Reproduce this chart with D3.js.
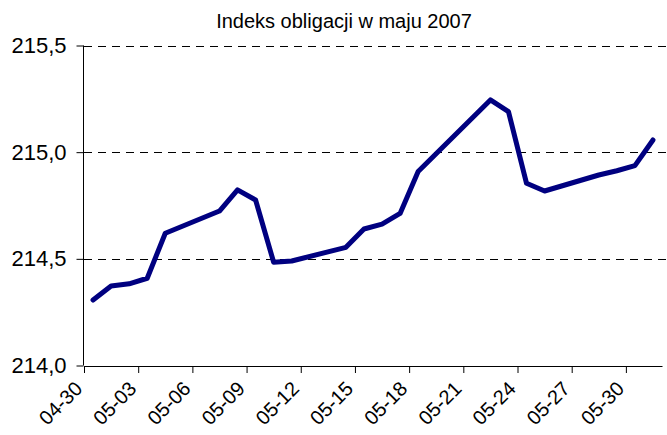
<!DOCTYPE html>
<html lang="pl">
<head>
<meta charset="utf-8">
<title>Indeks obligacji w maju 2007</title>
<script src="https://cdnjs.cloudflare.com/ajax/libs/d3/7.8.5/d3.min.js"></script>
<style>
  body { margin: 0; background: #fff; }
  svg { display: block; font-family: "Liberation Sans", Arial, sans-serif; }
</style>
</head>
<body>
<div id="chart"></div>
<script>
// trading days (2007) and index values
var days = ["04-30", "05-01", "05-02", "05-03", "05-04", "05-07", "05-08", "05-09",
  "05-10", "05-11", "05-14", "05-15", "05-16", "05-17", "05-18", "05-22", "05-23",
  "05-24", "05-25", "05-28", "05-29", "05-30", "05-31"];
var values = [214.307, 214.373, 214.383, 214.409, 214.62, 214.724, 214.823, 214.776,
  214.484, 214.49, 214.554, 214.64, 214.663, 214.713, 214.909, 215.245, 215.19,
  214.854, 214.818, 214.893, 214.913, 214.937, 215.057];
var xTicks = ["04-30", "05-03", "05-06", "05-09", "05-12", "05-15", "05-18", "05-21",
  "05-24", "05-27", "05-30"];
var yTicks = [214.0, 214.5, 215.0, 215.5];

var width = 667, height = 435;
var plotLeft = 84, plotRight = 662, plotTop = 45.5, plotBottom = 365.5;

var parse = d3.utcParse("%Y-%m-%d");
function toDate(s) { return parse("2007-" + s); }

var data = days.map(function(d, i) {
  return { date: d3.utcHour.offset(toDate(d), 12), value: values[i] };
});

var x = d3.scaleUtc()
  .domain([toDate("04-30"), toDate("06-01")])
  .range([plotLeft, plotRight]);

var y = d3.scaleLinear()
  .domain([214, 215.5])
  .range([plotBottom, plotTop]);

var svg = d3.select("#chart").append("svg")
  .attr("width", width)
  .attr("height", height);

// title
svg.append("text")
  .attr("x", 344)
  .attr("y", 28)
  .attr("text-anchor", "middle")
  .style("font-size", "20px")
  .text("Indeks obligacji w maju 2007");

// dashed gridlines
svg.append("g")
  .selectAll("line")
  .data(yTicks.filter(function(d) { return d > 214; }))
  .enter().append("line")
  .attr("x1", plotLeft)
  .attr("x2", width)
  .attr("y1", function(d) { return Math.round(y(d)) + 0.5; })
  .attr("y2", function(d) { return Math.round(y(d)) + 0.5; })
  .attr("stroke", "#000")
  .attr("stroke-width", 1)
  .attr("stroke-dasharray", "8,6");

// y axis
var yAxis = svg.append("g")
  .attr("transform", "translate(" + (plotLeft - 0.5) + ",0)")
  .call(d3.axisLeft(y)
    .tickValues(yTicks)
    .tickSize(7)
    .tickPadding(10)
    .tickFormat(function(d) { return d3.format(".1f")(d).replace(".", ","); }));
yAxis.select(".domain").remove();
yAxis.append("line")
  .attr("x1", 0).attr("x2", 0)
  .attr("y1", plotTop).attr("y2", plotBottom)
  .attr("stroke", "#000");
yAxis.selectAll("text")
  .style("font-size", "22px")
  .style("font-family", "'Liberation Sans', Arial, sans-serif")
  .attr("fill", "#000");
yAxis.selectAll(".tick line").attr("stroke", "#000");

// x axis
var xAxis = svg.append("g")
  .attr("transform", "translate(0," + (plotBottom + 0.5) + ")")
  .call(d3.axisBottom(x)
    .tickValues(xTicks.map(toDate))
    .tickSize(7)
    .tickSizeOuter(0)
    .tickFormat(d3.utcFormat("%m-%d")));
xAxis.select(".domain").attr("stroke", "#000");
xAxis.selectAll(".tick line").attr("stroke", "#000");
xAxis.selectAll("text")
  .style("font-size", "20px")
  .style("font-family", "'Liberation Sans', Arial, sans-serif")
  .attr("fill", "#000")
  .attr("text-anchor", "end")
  .attr("y", 0)
  .attr("dy", null)
  .attr("transform", "translate(-1,24) rotate(-45)");

// line
svg.append("path")
  .datum(data)
  .attr("fill", "none")
  .attr("stroke", "#000080")
  .attr("stroke-width", 5)
  .attr("stroke-linejoin", "round")
  .attr("stroke-linecap", "round")
  .attr("d", d3.line()
    .x(function(d) { return x(d.date); })
    .y(function(d) { return y(d.value); }));
</script>
</body>
</html>
